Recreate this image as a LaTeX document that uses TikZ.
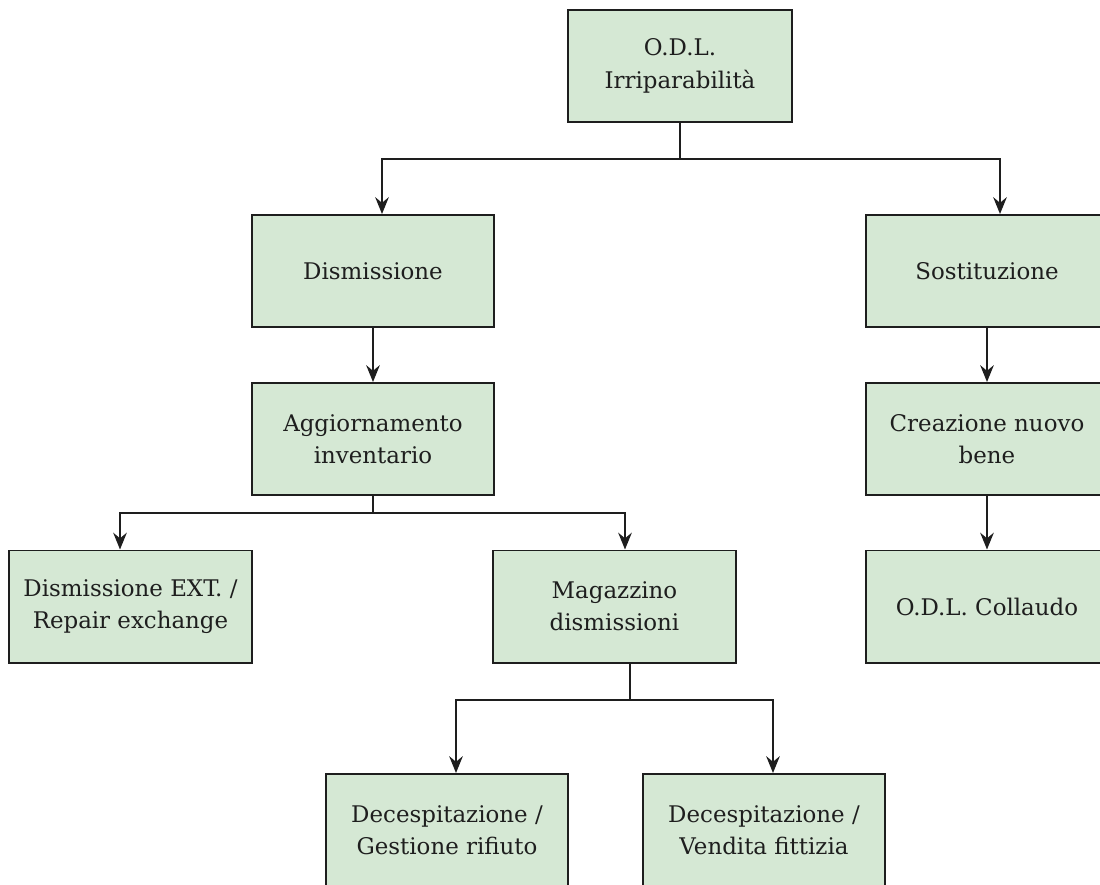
\documentclass[tikz,border=0pt]{standalone}
\usepackage{fontspec}
\setmainfont{DejaVu Serif}
\usepackage{tikz}
\usetikzlibrary{arrows.meta,calc}
\definecolor{sage}{HTML}{D5E8D4}
\definecolor{ink}{HTML}{1E1E1E}
\tikzset{block/.style={draw=ink,fill=sage,line width=1.4pt,align=center,font=\fontsize{16.3}{23}\selectfont,text=ink,minimum width=6.05cm,minimum height=2.8cm,inner sep=4pt}, link/.style={draw=ink,line width=1.3pt}, flow/.style={link,-{Stealth[length=4.2mm,width=3.4mm,inset=1.4mm]}}}

\begin{document}
\begin{tikzpicture}[x=0.025cm,y=-0.025cm]
\clip (0,0) rectangle (1100,884);
\fill[white] (0,0) rectangle (1100,884);
\node[block,minimum width=5.6cm] (odl) at (680,66) {O.D.L.\\Irriparabilità};
\node[block] (dism) at (373,271) {Dismissione};
\node[block] (sost) at (987,271) {Sostituzione};
\node[block] (agg) at (373,439) {Aggiornamento\\inventario};
\node[block] (crea) at (987,439) {Creazione nuovo\\bene};
\node[block] (ext) at (130.5,606.5) {Dismissione EXT. /\\Repair exchange};
\node[block] (mag) at (614.5,606.5) {Magazzino\\dismissioni};
\node[block] (coll) at (987,606.5) {O.D.L. Collaudo};
\node[block] (rif) at (447,830) {Decespitazione /\\Gestione rifiuto};
\node[block] (vend) at (764,830) {Decespitazione /\\Vendita fittizia};
% junctions
\coordinate (jtop) at (680,159);
\coordinate (jinv) at (373,513);
\coordinate (jmag) at (630,700);
\draw[link] (odl.south) -- (jtop);
\draw[flow] (jtop) -| ($(dism.north)+(9,0)$);
\draw[flow] (jtop) -| ($(sost.north)+(13,0)$);
\draw[flow] (dism) -- (agg);
\draw[flow] (sost) -- (crea);
\draw[flow] (crea) -- (coll);
\draw[link] (agg.south) -- (jinv);
\draw[flow] (jinv) -| ($(ext.north)+(-10.5,0)$);
\draw[flow] (jinv) -| ($(mag.north)+(10.5,0)$);
\draw[link] ($(mag.south)+(15.5,0)$) -- (jmag);
\draw[flow] (jmag) -| ($(rif.north)+(9,0)$);
\draw[flow] (jmag) -| ($(vend.north)+(9,0)$);
\end{tikzpicture}
\end{document}
